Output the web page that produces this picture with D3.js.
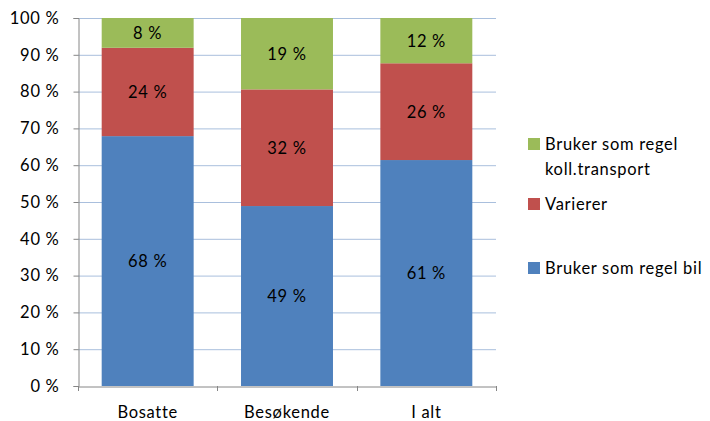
<!DOCTYPE html>
<html><head><meta charset="utf-8">
<script src="https://cdn.jsdelivr.net/npm/d3@7"></script>
<style>body{margin:0;background:#fff;} text{font-family:Lato,"Open Sans",sans-serif;letter-spacing:0.7px;}</style>
</head><body>
<svg id="c" width="710" height="421"></svg>
<script>
const categories = ["Bosatte", "Besøkende", "I alt"];
const seriesNames = ["Bruker som regel bil", "Varierer", "Bruker som regel koll.transport"];
const bil = [67.9, 48.9, 61.4];
const varierer = [24.0, 31.7, 26.3];
const koll = [8.1, 19.4, 12.3];
const yTicks = [0, 10, 20, 30, 40, 50, 60, 70, 80, 90, 100];
const colors = ["#4f81bd", "#c0504d", "#9bbb59"];
const FS = 16.5;

const svg = d3.select("#c");
const L = 78, R = 496, T = 18, B = 386;
const x = d3.scaleBand().domain(categories).range([L, R]).paddingInner(0.34).paddingOuter(0.17);
const y = d3.scaleLinear().domain([0, 100]).range([B, T]);

const rows = categories.map((c, i) => ({cat: c, s0: bil[i], s1: varierer[i], s2: koll[i]}));
const stack = d3.stack().keys(["s0", "s1", "s2"])(rows);

// gridlines
svg.append("g").selectAll("line").data(yTicks.filter(d => d > 0)).join("line")
  .attr("x1", L).attr("x2", R).attr("y1", d => y(d) + 0.5).attr("y2", d => y(d) + 0.5)
  .attr("stroke", "#a9bfdd").attr("stroke-width", 1);

// bars
stack.forEach((layer, k) => {
  svg.append("g").selectAll("rect").data(layer).join("rect")
    .attr("x", d => x(d.data.cat)).attr("width", x.bandwidth())
    .attr("y", d => y(d[1])).attr("height", d => y(d[0]) - y(d[1]))
    .attr("fill", colors[k]);
  svg.append("g").selectAll("text").data(layer).join("text")
    .attr("x", d => x(d.data.cat) + x.bandwidth() / 2)
    .attr("y", d => (y(d[0]) + y(d[1])) / 2 + 6)
    .attr("text-anchor", "middle").attr("font-size", FS).attr("fill", "#000")
    .text(d => Math.round(d[1] - d[0]) + " %");
});

// y axis
const ya = svg.append("g").attr("transform", `translate(${L + 0.5},0)`)
  .call(d3.axisLeft(y).tickValues(yTicks).tickSize(5).tickPadding(14).tickFormat(d => d + " %"));
ya.select(".domain").attr("stroke", "#868686");
ya.selectAll(".tick line").attr("stroke", "#868686");
ya.selectAll(".tick text").attr("font-size", FS).attr("fill", "#000").attr("font-family", "Lato");

// x axis
const xa = svg.append("g").attr("transform", `translate(0,${B + 0.5})`)
  .call(d3.axisBottom(x).tickSize(0).tickPadding(20));
xa.select(".domain").attr("stroke", "#868686");
xa.selectAll(".tick text").attr("font-size", FS).attr("fill", "#000").attr("font-family", "Lato");
const bTicks = [0, 1, 2, 3].map(i => L + i * x.step());
svg.append("g").selectAll("line").data(bTicks).join("line")
  .attr("x1", d => Math.round(d) + 0.5).attr("x2", d => Math.round(d) + 0.5)
  .attr("y1", B).attr("y2", B + 5).attr("stroke", "#868686");

// legend
const legend = [
  {c: colors[2], lines: ["Bruker som regel", "koll.transport"], y: 138},
  {c: colors[1], lines: ["Varierer"], y: 198},
  {c: colors[0], lines: ["Bruker som regel bil"], y: 262}
];
const lg = svg.append("g");
legend.forEach(d => {
  lg.append("rect").attr("x", 528).attr("y", d.y).attr("width", 12).attr("height", 12).attr("fill", d.c);
  d.lines.forEach((t, j) => {
    lg.append("text").attr("x", 545).attr("y", d.y + 12 + j * 25).attr("font-size", FS).attr("fill", "#000").text(t);
  });
});
</script>
</body></html>
